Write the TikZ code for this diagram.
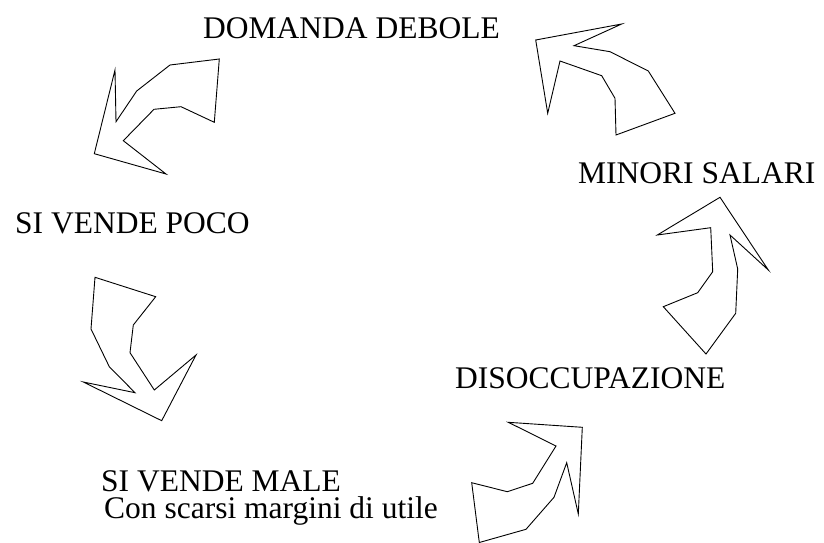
\documentclass[tikz,border=0pt]{standalone}
\usepackage{fontspec}
\setmainfont{Liberation Serif}
\begin{document}
\begin{tikzpicture}[x=1pt,y=-1pt,
  lbl/.style={anchor=base west,inner sep=0pt,font=\fontsize{31.5}{36}\selectfont},
  arrowshape/.style={draw=black,line width=0.9pt,line join=miter}]
\useasboundingbox (0,0) rectangle (824,543);
% labels
\node[lbl] (dom) at (203,38) {DOMANDA DEBOLE};
\node[lbl] (sal) at (578,183.5) {MINORI SALARI};
\node[lbl] (poco) at (15,233) {SI VENDE POCO};
\node[lbl] (dis) at (455,388) {DISOCCUPAZIONE};
\node[lbl,anchor=north west,align=left,font=\fontsize{31.5}{26.5}\selectfont] (male) at (101,470.8)
  {SI VENDE MALE\\\hspace*{3pt}Con scarsi margini di utile};
% arrow: DOMANDA DEBOLE -> SI VENDE POCO
\draw[arrowshape] (115,70) -- (116,121.7) -- (136.7,91) -- (170,65) -- (219.3,59)
  -- (214.3,122.3) -- (181,106.7) -- (154,109.3) -- (123.3,140.7) -- (166,174)
  -- (94.3,153.7) -- cycle;
% arrow: MINORI SALARI -> DOMANDA DEBOLE
\draw[arrowshape] (535.7,40) -- (621.7,24) -- (574,45.7) -- (610,51.7) -- (648.3,71)
  -- (675,113.3) -- (616,135) -- (615,98.3) -- (601.7,75.7) -- (560,61)
  -- (547.7,113.3) -- cycle;
% arrow: DISOCCUPAZIONE -> MINORI SALARI
\draw[arrowshape] (720,197.3) -- (768.3,270) -- (730,235) -- (737.7,269) -- (735.7,313.3)
  -- (706,354) -- (663.3,306.7) -- (697.7,292.7) -- (712.7,271.7) -- (710.7,227.7)
  -- (657.3,235) -- cycle;
% arrow: SI VENDE POCO -> SI VENDE MALE
\draw[arrowshape] (95,277.3) -- (155.7,296.7) -- (133.3,325) -- (130,352.7) -- (154.3,390)
  -- (196,355) -- (161.7,420.7) -- (83.3,382) -- (135,392.7) -- (109.3,366.7)
  -- (91,329) -- cycle;
% arrow: SI VENDE MALE -> DISOCCUPAZIONE
\draw[arrowshape] (508.3,422.3) -- (582.3,427.3) -- (578.3,514) -- (566.7,462.7) -- (554,497.3)
  -- (526,529.3) -- (479.3,542.5) -- (471.7,482.7) -- (507.3,491.7) -- (532.7,483.3)
  -- (556,446) -- cycle;
\end{tikzpicture}
\end{document}
